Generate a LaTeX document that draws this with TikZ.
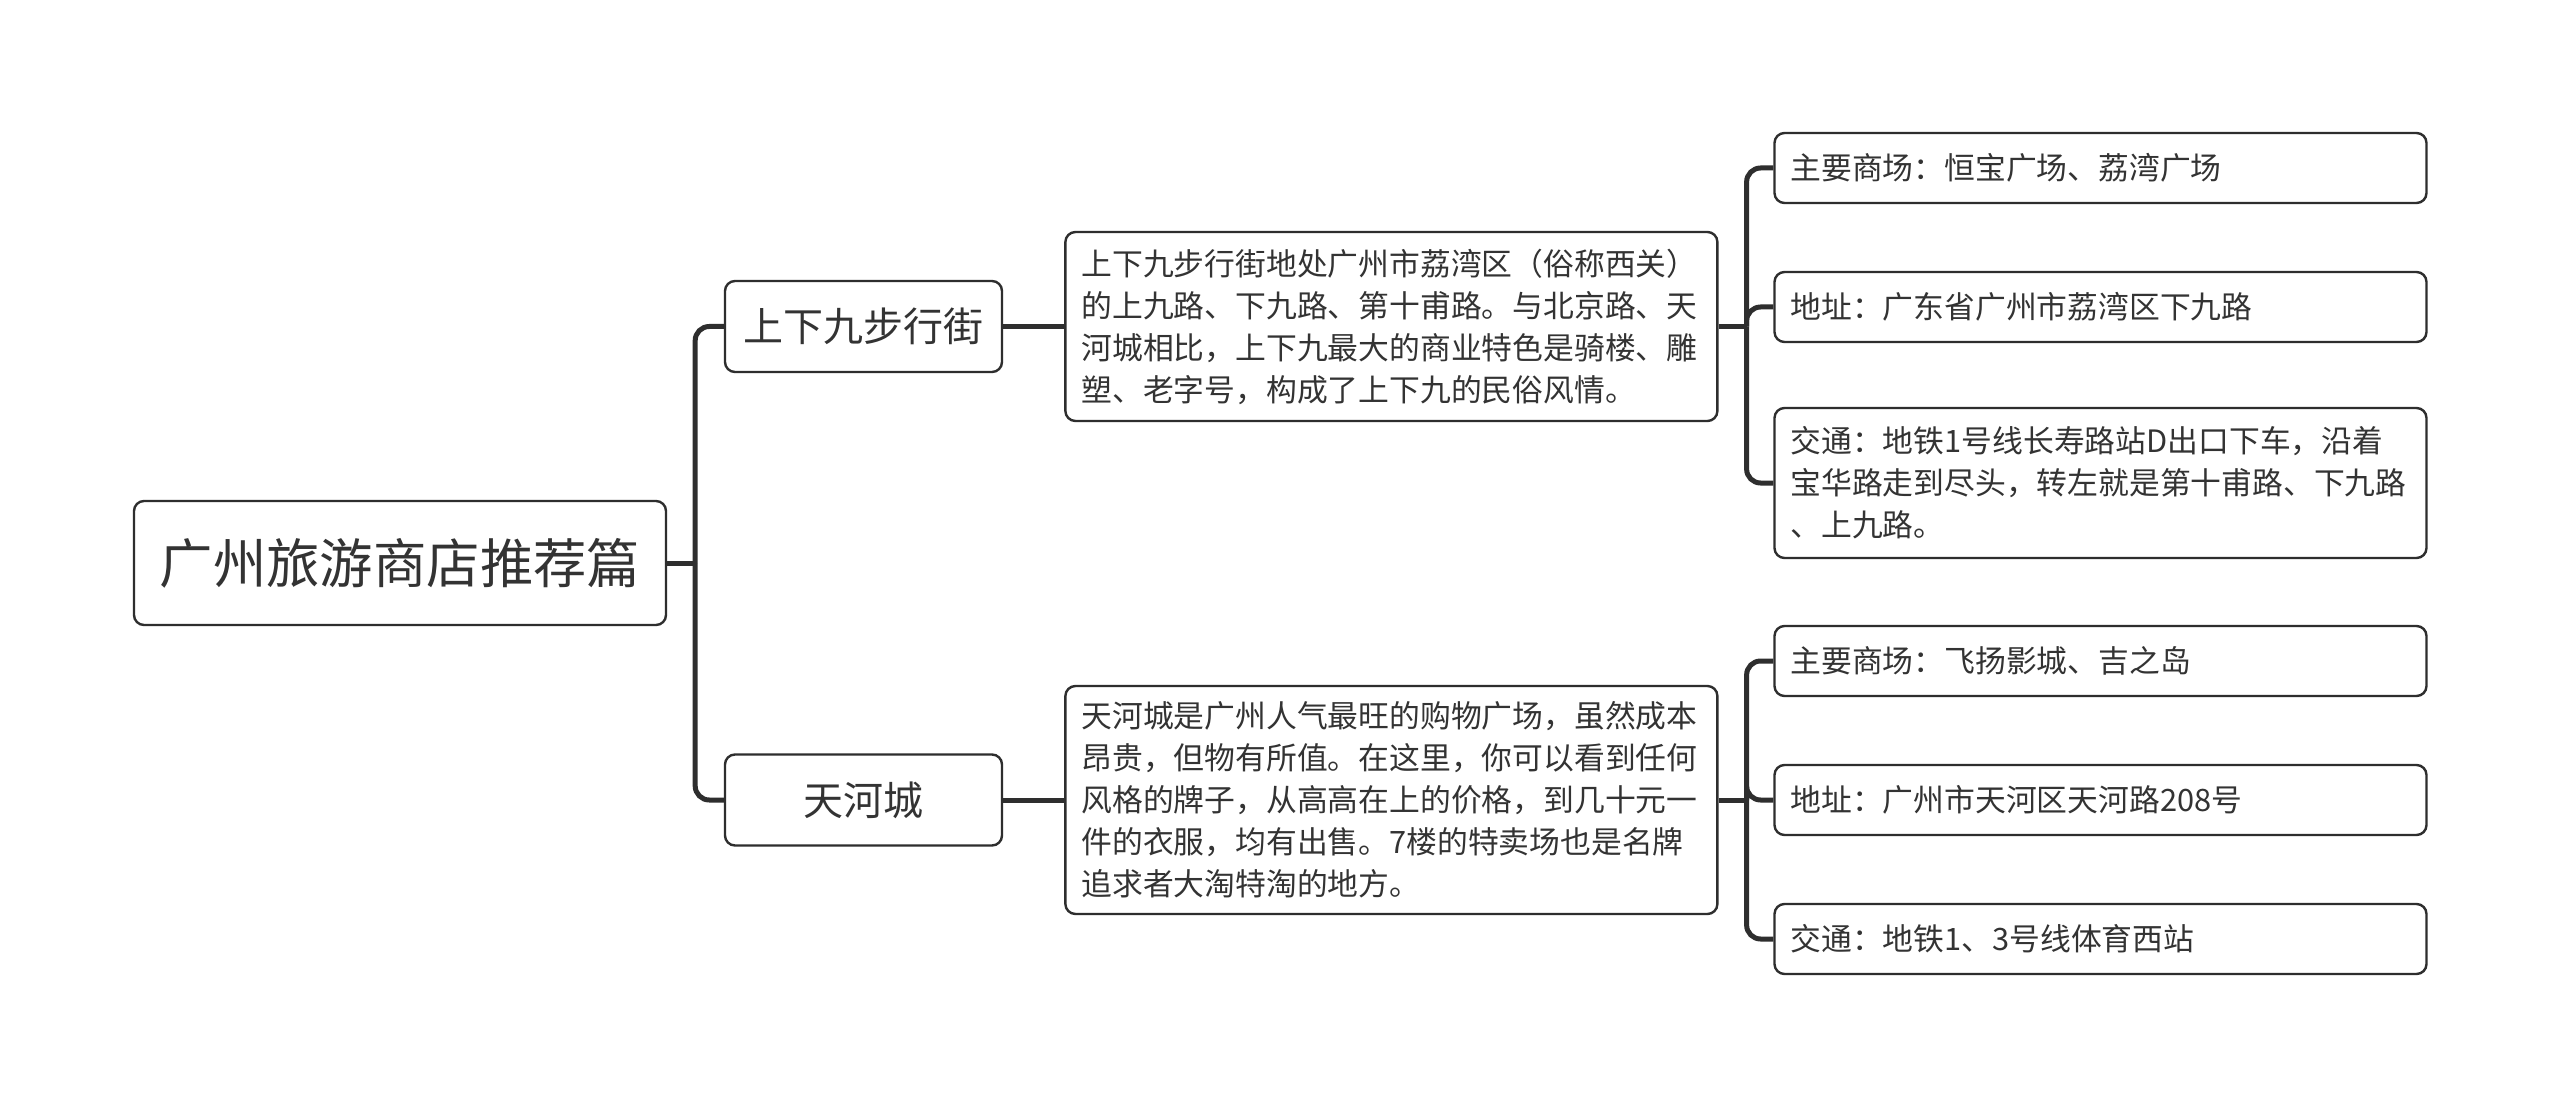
\documentclass[tikz,border=0pt]{standalone}
\usepackage{fontspec}
\setmainfont{Noto Sans CJK SC}
\usetikzlibrary{positioning}
\definecolor{mmline}{HTML}{2E2E2E}
\definecolor{mmtext}{HTML}{333333}

\tikzset{
  topic/.style={draw=mmline,line width=1.2pt,rounded corners=5pt,fill=white,text=mmtext},
  rootbox/.style={topic,minimum width=266pt,minimum height=62pt,
    font=\fontsize{26.7pt}{32pt}\selectfont},
  branchbox/.style={topic,minimum width=138.5pt,minimum height=45.5pt,
    font=\fontsize{20pt}{24pt}\selectfont},
  notebox/.style={topic,text width=310pt,inner xsep=8pt,align=left,
    font=\fontsize{15.4pt}{21pt}\selectfont},
  link/.style={draw=mmline,line width=2.5pt},
}

\begin{document}
\begin{tikzpicture}[x=1pt,y=-1pt]
  \fill[white] (0,0) rectangle (1280,553.5);
  \useasboundingbox (0,0) rectangle (1280,553.5);

  % root and the two places
  \node[rootbox] (gz) at (200,281.5) {广州旅游商店推荐篇};
  \node[branchbox] (sxj) at (431.75,163.25) {上下九步行街};
  \node[branchbox] (thc) at (431.75,400) {天河城};

  % descriptions
  \node[notebox,minimum height=94.5pt,right=30.5pt of sxj] (sxjdesc)
    {上下九步行街地处广州市荔湾区（俗称西关）\\
     的上九路、下九路、第十甫路。与北京路、天\\
     河城相比，上下九最大的商业特色是骑楼、雕\\
     塑、老字号，构成了上下九的民俗风情。};
  \node[notebox,minimum height=114pt,right=30.5pt of thc] (thcdesc)
    {天河城是广州人气最旺的购物广场，虽然成本\\
     昂贵，但物有所值。在这里，你可以看到任何\\
     风格的牌子，从高高在上的价格，到几十元一\\
     件的衣服，均有出售。7楼的特卖场也是名牌\\
     追求者大淘特淘的地方。};

  % details
  \node[notebox,minimum height=35pt] (sxjmall) at (1050.25,84)
    {主要商场：恒宝广场、荔湾广场};
  \node[notebox,minimum height=35pt] (sxjaddr) at (1050.25,153.5)
    {地址：广东省广州市荔湾区下九路};
  \node[notebox,minimum height=75pt] (sxjtraf) at (1050.25,241.5)
    {交通：地铁1号线长寿路站D出口下车，沿着\\
     宝华路走到尽头，转左就是第十甫路、下九路\\
     、上九路。};
  \node[notebox,minimum height=35pt] (thcmall) at (1050.25,330.5)
    {主要商场：飞扬影城、吉之岛};
  \node[notebox,minimum height=35pt] (thcaddr) at (1050.25,400)
    {地址：广州市天河区天河路208号};
  \node[notebox,minimum height=35pt] (thctraf) at (1050.25,469.5)
    {交通：地铁1、3号线体育西站};

  % connectors
  \draw[link] (gz.east) -- ++(14,0) coordinate (gzj);
  \foreach \c in {sxj,thc}
    \draw[link,rounded corners=7pt] (gzj) |- (\c.west);
  \draw[link] (sxj.east) -- (sxjdesc.west);
  \draw[link] (thc.east) -- (thcdesc.west);
  \draw[link] (sxjdesc.east) -- ++(14,0) coordinate (sxjj);
  \foreach \c in {sxjmall,sxjaddr,sxjtraf}
    \draw[link,rounded corners=7pt] (sxjj) |- (\c.west);
  \draw[link] (thcdesc.east) -- ++(14,0) coordinate (thcj);
  \foreach \c in {thcmall,thcaddr,thctraf}
    \draw[link,rounded corners=7pt] (thcj) |- (\c.west);
\end{tikzpicture}
\end{document}
